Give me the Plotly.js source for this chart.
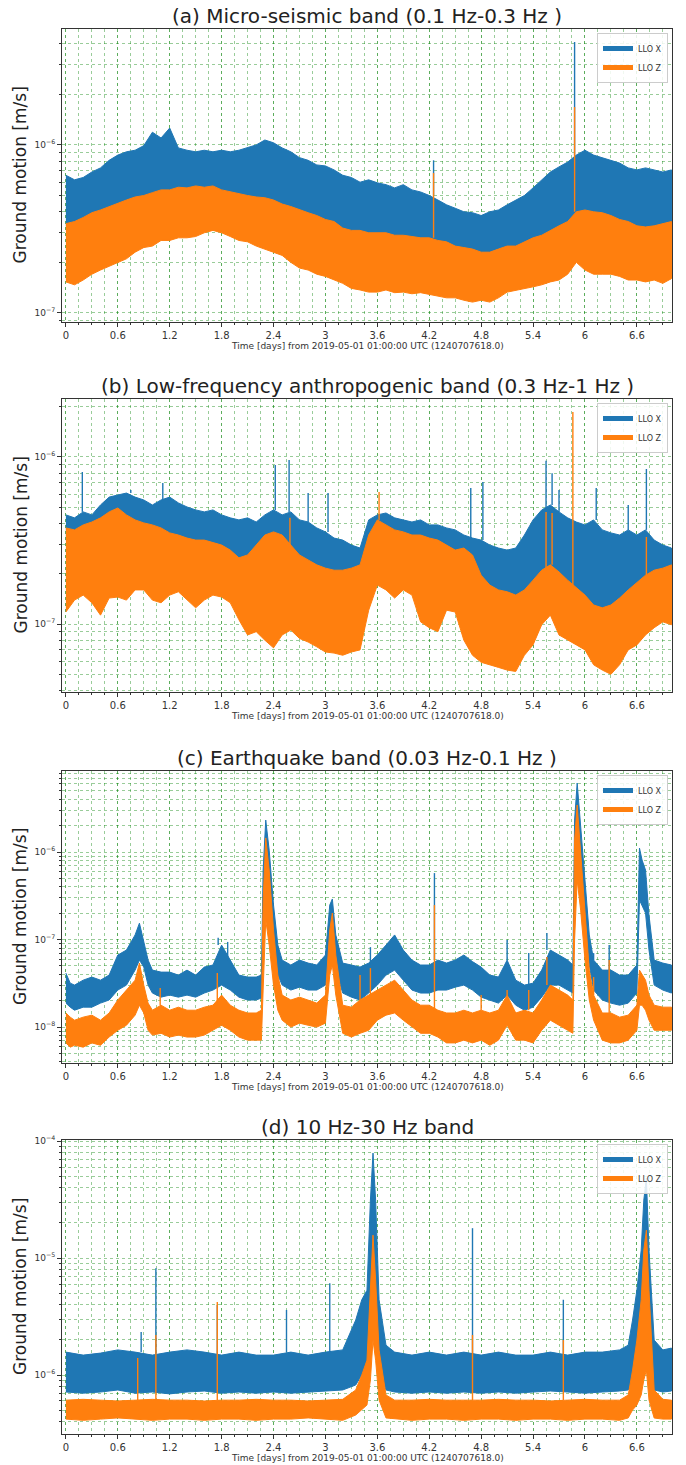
<!DOCTYPE html>
<html><head><meta charset="utf-8">
<script src="https://cdn.plot.ly/plotly-3.0.1.min.js"></script>
<style>html,body{margin:0;padding:0;background:#fff}#chart{width:686px;height:1465px}</style>
</head><body><div id="chart"></div>
<script>
// ---------- tick labels ----------
const xTickVals = [0,0.6,1.2,1.8,2.4,3,3.6,4.2,4.8,5.4,6,6.6];
const xTickText = ['0','0.6','1.2','1.8','2.4','3','3.6','4.2','4.8','5.4','6','6.6'];
const seriesNames = ['LLO X','LLO Z'];
const titles = ['(a) Micro-seismic band (0.1 Hz-0.3 Hz )','(b) Low-frequency anthropogenic band (0.3 Hz-1 Hz )','(c) Earthquake band (0.03 Hz-0.1 Hz )','(d) 10 Hz-30 Hz band'];
const yLabel = 'Ground motion [m/s]';
const xLabel = 'Time [days] from 2019-05-01 01:00:00 UTC (1240707618.0)';

// ---------- (a) and (b): envelopes every 0.1 day, values in 1e-7 m/s ----------
const tAB = [0,0.1,0.2,0.3,0.4,0.5,0.6,0.7,0.8,0.9,1.0,1.1,1.2,1.3,1.4,1.5,1.6,1.7,1.8,1.9,2.0,2.1,2.2,2.3,2.4,2.5,2.6,2.7,2.8,2.9,3.0,3.1,3.2,3.3,3.4,3.5,3.6,3.7,3.8,3.9,4.0,4.1,4.2,4.3,4.4,4.5,4.6,4.7,4.8,4.9,5.0,5.1,5.2,5.3,5.4,5.5,5.6,5.7,5.8,5.9,6.0,6.1,6.2,6.3,6.4,6.5,6.6,6.7,6.8,6.9,7.0];

const aXhi = [6.6,6.2,6.4,6.9,7.3,8.1,8.7,9.1,9.3,9.9, 11.9,11.0,12.6,9.6,9.3,9.1,9.3,9.1,9.3,9.1, 9.3,9.6,10.0,10.7,10.3,9.6,9.1,8.4,8.1,7.6, 7.5,7.1,6.6,6.4,6.0,6.2,5.95,5.8,5.55,5.8, 5.4,5.25,5.0,4.7,4.4,4.2,4.0,3.95,3.8,4.0, 4.1,4.4,4.7,5.0,5.55,6.2,6.9,7.4,7.9,8.7, 9.3,8.7,8.4,8.1,7.8,7.3,7.1,7.3,7.1,6.9, 7.1];
const aXlo = [3.3,3.4,3.6,3.7,3.8,3.95,4.1,4.3,4.4,4.5, 4.7,4.85,4.85,5.0,4.95,5.0,5.0,5.0,4.85,4.7, 4.6,4.5,4.4,4.35,4.2,4.0,3.8,3.7,3.6,3.5, 3.3,3.2,3.1,3.0,3.0,3.0,2.95,2.9,2.85,2.85, 2.8,2.8,2.7,2.65,2.55,2.5,2.4,2.35,2.3,2.3, 2.4,2.45,2.5,2.6,2.7,2.85,3.0,3.2,3.4,3.9, 4.0,3.9,3.8,3.75,3.5,3.4,3.25,3.15,3.2,3.3, 3.4];
const aZhi = [3.4,3.5,3.7,3.95,4.1,4.3,4.5,4.7,4.9,5.0, 5.2,5.4,5.4,5.6,5.55,5.7,5.6,5.7,5.4,5.25, 5.1,5.0,4.9,4.85,4.7,4.45,4.3,4.1,3.95,3.8, 3.6,3.5,3.2,3.1,3.1,3.0,3.0,3.0,2.9,2.9, 2.85,2.8,2.8,2.7,2.65,2.5,2.45,2.4,2.3,2.3, 2.4,2.5,2.5,2.65,2.8,2.9,3.1,3.3,3.5,4.0, 4.1,4.0,3.95,3.8,3.6,3.5,3.3,3.25,3.3,3.4, 3.5];
const aZlo = [1.53,1.47,1.57,1.7,1.8,1.9,2.0,2.1,2.3,2.45, 2.5,2.7,2.7,2.8,2.8,2.85,3.0,3.1,3.0,2.85, 2.7,2.65,2.5,2.4,2.3,2.2,2.0,1.85,1.8,1.7, 1.65,1.57,1.5,1.4,1.37,1.33,1.33,1.37,1.32,1.33, 1.3,1.32,1.28,1.26,1.23,1.23,1.19,1.16,1.19,1.16, 1.23,1.33,1.37,1.4,1.43,1.47,1.53,1.57,1.7,2.0, 1.8,1.7,1.7,1.7,1.65,1.57,1.57,1.53,1.57,1.5, 1.6];
const aSpikeXT = [4.25,5.88];
const aSpikeXV = [8.1,41];
const aSpikeZT = [4.25,5.88];
const aSpikeZV = [6.8,16.8];

const bXhi = [4.50,4.32,4.69,4.50,5.16,5.75,5.92,6.08,5.75,5.53, 5.16,5.53,5.75,5.31,5.02,4.82,4.69,4.82,4.50,4.32, 4.20,4.32,4.08,4.50,4.82,4.50,4.69,4.20,4.08,3.76, 3.56,3.27,3.18,2.97,2.85,4.20,4.50,4.62,4.32,4.20, 4.08,4.20,3.92,3.92,3.76,3.66,3.41,3.27,3.18,2.97, 2.85,2.77,2.85,3.41,4.20,4.82,5.16,4.69,4.32,4.08, 3.92,4.20,3.66,3.51,3.41,3.66,3.41,3.66,3.18,2.97, 2.85];
const bXlo = [3.18,3.10,3.32,3.41,3.66,3.92,4.20,3.81,3.56,3.41, 3.32,3.18,2.97,2.89,2.77,2.70,2.70,2.59,2.52,2.35, 2.16,2.19,2.52,2.89,3.02,2.89,2.52,2.26,2.10,1.96, 1.88,1.83,1.83,1.88,1.96,2.89,3.56,3.32,3.10,3.02, 2.89,2.89,2.77,2.70,2.52,2.35,2.42,2.19,1.71,1.49, 1.39,1.36,1.30,1.39,1.60,1.83,1.96,1.78,1.60,1.43, 1.30,1.13,1.09,1.13,1.25,1.39,1.56,1.71,1.83,1.88, 1.96];
const bZhi = [3.76,3.66,3.92,4.08,4.32,4.69,4.95,4.50,4.20,4.03, 3.92,3.76,3.51,3.41,3.27,3.18,3.18,3.06,2.97,2.77, 2.49,2.59,2.97,3.41,3.56,3.41,2.97,2.59,2.42,2.26, 2.16,2.10,2.10,2.16,2.26,3.41,4.20,3.92,3.66,3.56, 3.41,3.41,3.27,3.18,2.97,2.77,2.85,2.59,1.96,1.71, 1.60,1.56,1.49,1.60,1.83,2.10,2.26,2.05,1.83,1.64, 1.49,1.30,1.25,1.30,1.43,1.60,1.78,1.96,2.10,2.16, 2.26];
const bZlo = [1.18,1.39,1.49,1.34,1.13,1.43,1.45,1.39,1.60,1.60, 1.39,1.34,1.49,1.56,1.39,1.25,1.39,1.49,1.45,1.34, 1.06,0.86,0.90,0.80,0.72,0.86,0.92,0.82,0.78,0.73, 0.68,0.67,0.65,0.68,0.70,1.21,1.71,1.60,1.43,1.60, 1.49,1.03,0.95,0.90,1.21,1.18,0.80,0.65,0.59,0.57, 0.55,0.53,0.52,0.65,0.75,0.99,1.13,0.86,0.80,0.75, 0.70,0.57,0.53,0.50,0.57,0.70,0.75,0.86,0.95,1.03, 0.99];
const bSpikeXT = [0.19,0.75,1.12,2.42,2.58,2.8,3.03,4.68,4.82,5.55,5.62,5.7,6.13,6.5,6.71];
const bSpikeXV = [8.13,6.35,6.98,8.96,9.6,6.08,6.08,6.52,7.08,9.5,8.0,6.35,6.52,5.16,8.47];
const bSpikeZT = [2.59,3.62,5.55,5.62,5.86,6.71];
const bSpikeZV = [4.32,6.17,4.69,4.62,18.6,3.32];

// ---------- (c): irregular sampling, values in 1e-8 m/s ----------
const tC = [0,0.05,0.1,0.2,0.3,0.4,0.5,0.6,0.7,0.8, 0.85,0.9,0.95,1.0,1.1,1.2,1.3,1.4,1.5,1.6, 1.7,1.8,1.9,2.0,2.1,2.2,2.26,2.28,2.31,2.35, 2.4,2.45,2.5,2.6,2.7,2.8,2.9,3.0,3.05,3.08, 3.12,3.2,3.3,3.4,3.5,3.6,3.7,3.8,3.9,4.0, 4.1,4.2,4.3,4.4,4.5,4.6,4.7,4.8,4.9,5.0, 5.1,5.2,5.3,5.4,5.5,5.6,5.7,5.8,5.86,5.88, 5.91,5.95,6.0,6.05,6.1,6.2,6.3,6.4,6.5,6.6, 6.63,6.66,6.7,6.74,6.8,6.9,7.0];
const cXhi = [4.14,3.18,3.02,3.44,3.73,3.44,3.93,6.66,7.59,11.3, 15.4,9.86,5.83,4.48,4.25,4.25,3.93,4.48,3.93,4.85, 5.12,8.65,5.83,3.93,3.73,3.73,3.93,62.3,232,105, 24.8,8.65,5.83,5.12,5.83,5.39,5.12,6.66,24.8,29.1, 11.3,5.39,5.12,4.85,5.39,6.66,8.65,11.3,7.59,5.83, 5.12,5.12,5.83,5.39,5.83,6.66,5.6,4.85,3.93,3.73, 5.83,3.44,3.02,3.18,4.48,7.59,6.66,5.83,5.12,232, 615,178,47.9,11.3,5.83,4.48,4.48,3.93,3.93,5.12, 111,81.1,62.3,19.0,5.83,5.39,5.12];
const cXlo = [1.88,1.69,1.56,1.69,1.69,1.88,2.04,2.65,3.02,4.48, 5.83,4.85,3.02,2.45,2.20,2.32,2.20,2.32,2.20,2.45, 2.65,3.02,2.65,2.20,2.04,2.04,2.15,5.83,47.9,24.8, 7.59,3.93,3.02,2.65,2.86,2.65,2.65,3.02,6.66,7.59, 4.48,2.45,2.20,2.04,2.45,3.02,3.93,4.48,3.44,2.65, 2.45,2.45,2.65,2.65,2.86,3.02,2.65,2.20,2.04,1.88, 2.32,1.78,1.56,1.69,2.20,3.02,3.02,2.65,2.45,47.9, 105,47.9,16.7,5.12,2.65,2.04,1.88,1.78,1.88,2.45, 28.3,24.8,20.1,7.59,3.02,2.65,2.45];
const cZhi = [1.45,1.30,1.20,1.30,1.37,1.20,1.45,2.04,2.65,3.44, 5.39,3.02,1.88,1.56,1.78,1.56,1.69,1.56,1.56,1.69, 1.78,2.32,1.78,1.56,1.45,1.45,1.56,28.3,145,62.3, 12.9,3.93,2.32,2.04,2.20,2.04,1.88,2.32,12.9,20.1, 6.66,1.78,1.69,2.04,2.32,2.65,3.02,3.44,2.65,2.04, 1.78,1.78,1.56,1.45,1.45,1.56,1.45,1.56,1.45,1.56, 2.32,1.45,1.56,1.45,2.04,3.02,2.65,2.32,2.04,137, 345,105,24.8,4.48,2.32,1.45,1.45,1.30,1.37,1.78, 4.48,3.93,3.44,2.32,1.78,1.69,1.69];
const cZlo = [0.66,0.59,0.62,0.59,0.66,0.62,0.77,0.92,1.05,1.37, 1.78,1.45,0.92,0.81,0.85,0.77,0.81,0.77,0.77,0.81, 0.92,1.05,0.92,0.77,0.71,0.71,0.71,2.65,16.7,8.65, 3.02,1.56,1.20,1.0,1.11,1.05,1.0,1.11,3.93,5.12, 2.32,0.85,0.77,0.85,0.92,1.20,1.37,1.45,1.20,1.0, 0.85,0.85,0.77,0.66,0.66,0.71,0.66,0.71,0.62,0.71, 1.05,0.71,0.71,0.66,0.92,1.20,1.05,0.92,0.85,9.86, 47.9,21.7,5.83,2.04,1.20,0.71,0.66,0.66,0.71,0.92, 1.78,1.78,1.56,1.20,0.92,0.92,0.92];
const cSpikeXT = [1.76,1.87,3.52,4.26,5.1,5.35,5.56,6.1,6.28];
const cSpikeXV = [10.5,9.4,8.2,57.5,9.86,7.01,11.9,7.01,8.65];
const cSpikeZT = [1.09,1.75,3.4,3.52,4.26,4.8,5.1,5.35,5.56,6.1,6.28];
const cSpikeZV = [2.79,4.14,3.93,4.72,24.8,2.32,2.65,2.65,6.31,3.73,5.83];

// ---------- (d): irregular sampling, values in 1e-7 m/s ----------
const tD = [0,0.2,0.4,0.6,0.8,1.0,1.2,1.4,1.6,1.8, 2.0,2.2,2.4,2.6,2.8,3.0,3.2,3.35,3.42,3.48, 3.52,3.55,3.58,3.62,3.7,3.8,4.0,4.2,4.4,4.6, 4.8,5.0,5.2,5.4,5.6,5.8,6.0,6.2,6.4,6.5, 6.55,6.6,6.65,6.68,6.71,6.74,6.8,6.9,7.0];
const dXhi = [15.7,14.8,15.4,16.4,15.7,14.8,15.7,16.4,15.7,14.8, 15.7,14.8,14.8,15.7,14.8,15.7,16.4,29.5,44,53, 313,789,313,44,18.0,15.7,14.8,15.7,14.8,15.7, 14.8,15.7,14.8,14.8,15.7,14.8,15.7,15.7,16.4,18.0, 29.5,53,117,313,483,117,19.9,16.4,17.0];
const dXlo = [7.16,7.0,7.16,7.45,7.0,7.16,6.9,7.16,7.3,7.0, 7.16,7.0,7.16,7.0,7.16,7.3,7.45,8.22,10,12.2, 19.9,44,24.3,11.0,7.45,7.16,7.0,7.16,7.0,7.16, 7.0,7.16,7.0,7.16,7.3,7.16,7.0,7.16,7.3,7.45, 8.22,11.0,19.9,44,53,19.9,7.45,7.16,7.3];
const dZhi = [6.1,6.2,6.1,6.0,6.1,6.2,6.1,6.1,6.0,6.1, 6.1,6.2,6.1,6.1,6.0,6.1,6.2,7.45,10,13.4, 53,157,65,16.4,6.75,6.1,6.1,6.2,6.1,6.1, 6.1,6.2,6.1,6.1,6.0,6.1,6.2,6.1,6.1,6.75, 11.0,19.9,44,117,173,53,7.45,6.2,6.1];
const dZlo = [4.2,4.1,4.2,4.3,4.2,4.1,4.2,4.2,4.1,4.2, 4.2,4.1,4.2,4.2,4.3,4.2,4.1,4.55,5.02,5.54, 9.06,19.9,13.4,6.11,4.3,4.2,4.1,4.2,4.2,4.1, 4.2,4.2,4.1,4.2,4.2,4.1,4.2,4.2,4.1,4.3, 5.02,5.54,6.75,9.06,11.0,6.11,4.29,4.2,4.2];
const dSpikeXT = [0.87,1.04,1.75,2.55,3.05,4.7,5.75];
const dSpikeXV = [23.3,82,39.6,36,61,180,44];
const dSpikeZT = [0.83,1.04,1.75,4.7,5.75];
const dSpikeZV = [14.0,22,42.2,22,19.9];

// ---------- drawing ----------
const W = 686, H = 1465;
const BLUE = '#1f77b4', ORANGE = '#ff7f0e';
const FONT = 'DejaVu Sans, Verdana, sans-serif';
const GRID = 'rgba(0,128,0,0.40)';
const PX_L = 62, PX_R = 672;

const panels = [
  {t:tAB, xhi:aXhi, xlo:aXlo, zhi:aZhi, zlo:aZlo, sxt:aSpikeXT, sxv:aSpikeXV, szt:aSpikeZT, szv:aSpikeZV, unit:1e-7, yr:[-7.054,-5.31], major:[1e-7,1e-6], top:29, bot:322},
  {t:tAB, xhi:bXhi, xlo:bXlo, zhi:bZhi, zlo:bZlo, sxt:bSpikeXT, sxv:bSpikeXV, szt:bSpikeZT, szv:bSpikeZV, unit:1e-7, yr:[-7.407,-5.653], major:[1e-7,1e-6], top:399, bot:692},
  {t:tC, xhi:cXhi, xlo:cXlo, zhi:cZhi, zlo:cZlo, sxt:cSpikeXT, sxv:cSpikeXV, szt:cSpikeZT, szv:cSpikeZV, unit:1e-8, yr:[-8.41,-5.074], major:[1e-8,1e-7,1e-6], top:771, bot:1063},
  {t:tD, xhi:dXhi, xlo:dXlo, zhi:dZhi, zlo:dZlo, sxt:dSpikeXT, sxv:dSpikeXV, szt:dSpikeZT, szv:dSpikeZV, unit:1e-7, yr:[-6.504,-3.991], major:[1e-6,1e-5,1e-4], top:1140, bot:1434}
];

function band(t, lo, hi, unit) {
  const x = t.concat(t.slice().reverse());
  const y = hi.map(v => v*unit).concat(lo.slice().reverse().map(v => v*unit));
  return {x, y};
}
function spikeSegs(ts, vs, t, base, unit) {
  const x = [], y = [];
  ts.forEach((s, i) => {
    let k = 0, best = Infinity;
    t.forEach((tt, j) => { const d = Math.abs(tt - s); if (d < best) { best = d; k = j; } });
    x.push(s, s, null); y.push(base[k]*unit, vs[i]*unit, null);
  });
  return {x, y};
}
function supExp(v) {
  const e = Math.round(Math.log10(v));
  return '10<sup>\u2212' + Math.abs(e) + '</sup>';
}

const traces = [];
const layout = {
  width: W, height: H, margin: {l:0, r:0, t:0, b:0},
  paper_bgcolor: '#fff', plot_bgcolor: '#fff',
  font: {family: FONT, color: '#333'},
  annotations: [], showlegend: true
};

panels.forEach((p, i) => {
  const sfx = i === 0 ? '' : String(i+1);
  const xa = 'x' + sfx, ya = 'y' + sfx;
  const legName = 'legend' + sfx;

  const bx = band(p.t, p.xlo, p.xhi, p.unit);
  traces.push({type:'scatter', mode:'lines', x:bx.x, y:bx.y, fill:'toself', fillcolor:BLUE,
    line:{color:BLUE, width:1}, xaxis:xa, yaxis:ya, showlegend:false, hoverinfo:'skip'});
  const sx = spikeSegs(p.sxt, p.sxv, p.t, p.xhi, p.unit);
  traces.push({type:'scatter', mode:'lines', x:sx.x, y:sx.y, line:{color:BLUE, width:1.4},
    xaxis:xa, yaxis:ya, showlegend:false, hoverinfo:'skip'});
  const bz = band(p.t, p.zlo, p.zhi, p.unit);
  traces.push({type:'scatter', mode:'lines', x:bz.x, y:bz.y, fill:'toself', fillcolor:ORANGE,
    line:{color:ORANGE, width:1}, xaxis:xa, yaxis:ya, showlegend:false, hoverinfo:'skip'});
  const sz = spikeSegs(p.szt, p.szv, p.t, p.zhi, p.unit);
  traces.push({type:'scatter', mode:'lines', x:sz.x, y:sz.y, line:{color:ORANGE, width:1.4},
    xaxis:xa, yaxis:ya, showlegend:false, hoverinfo:'skip'});
  [BLUE, ORANGE].forEach((c, k) => {
    traces.push({type:'scatter', mode:'lines', x:[null], y:[null], name:seriesNames[k],
      line:{color:c, width:5}, xaxis:xa, yaxis:ya, legend:legName, showlegend:true, hoverinfo:'skip'});
  });

  const minorVals = [];
  for (let d = Math.floor(p.yr[0]) ; d <= Math.ceil(p.yr[1]); d++)
    for (let m = 2; m <= 9; m++) minorVals.push(m * Math.pow(10, d));

  layout['xaxis' + sfx] = {
    domain:[PX_L/W, PX_R/W], anchor:ya, range:[-0.045, 7.006],
    tickmode:'array', tickvals:xTickVals, ticktext:xTickText,
    ticks:'outside', ticklen:4, tickwidth:1, tickcolor:'#333',
    tickfont:{size:10, color:'#333', family:FONT},
    showline:true, mirror:true, linecolor:'#333', linewidth:1,
    showgrid:true, gridcolor:GRID, griddash:'dot', gridwidth:1, zeroline:false,
    minor:{tick0:0, dtick:0.15, ticks:'outside', ticklen:2, tickcolor:'#333',
      showgrid:true, gridcolor:GRID, griddash:'dot', gridwidth:1},
    fixedrange:true
  };
  layout['yaxis' + sfx] = {
    type:'log', domain:[1 - p.bot/H, 1 - p.top/H], anchor:xa, range:p.yr,
    tickmode:'array', tickvals:p.major, ticktext:p.major.map(supExp),
    ticks:'outside', ticklen:4, tickwidth:1, tickcolor:'#333',
    tickfont:{size:9, color:'#333', family:FONT},
    showline:true, mirror:true, linecolor:'#333', linewidth:1,
    showgrid:true, gridcolor:GRID, griddash:'dot', gridwidth:1, zeroline:false,
    minor:{tickmode:'array', tickvals:minorVals, ticks:'outside', ticklen:2, tickcolor:'#333',
      showgrid:true, gridcolor:GRID, griddash:'dot', gridwidth:1},
    fixedrange:true
  };
  layout[legName] = {
    x:(PX_R - 4)/W, y:1 - (p.top + 4)/H, xanchor:'right', yanchor:'top',
    bgcolor:'rgba(255,255,255,0.85)', bordercolor:'#ccc', borderwidth:1,
    font:{size:8, color:'#333', family:FONT}, itemwidth:30, tracegroupgap:0
  };

  const cx = (PX_L + PX_R)/2/W;
  layout.annotations.push({text:titles[i], xref:'paper', yref:'paper', x:cx, y:1 - (p.top - 13)/H,
    xanchor:'center', yanchor:'middle', showarrow:false, font:{size:20, color:'#222', family:FONT}});
  layout.annotations.push({text:yLabel, xref:'paper', yref:'paper', x:20/W, y:1 - (p.top + p.bot)/2/H,
    xanchor:'center', yanchor:'middle', textangle:-90, showarrow:false, font:{size:17, color:'#222', family:FONT}});
  layout.annotations.push({text:xLabel, xref:'paper', yref:'paper', x:cx, y:1 - (p.bot + 24)/H,
    xanchor:'center', yanchor:'middle', showarrow:false, font:{size:9, color:'#333', family:FONT}});
});

Plotly.newPlot('chart', traces, layout, {staticPlot:true, displayModeBar:false});
</script>
</body></html>
